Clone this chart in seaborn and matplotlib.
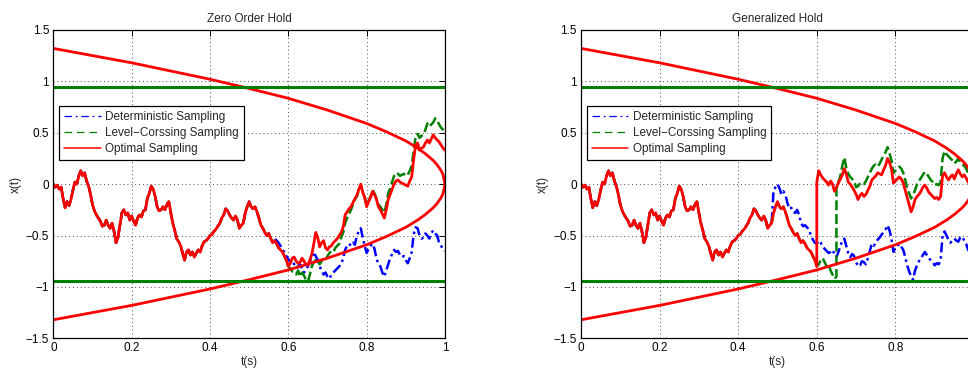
import numpy as np
import matplotlib
matplotlib.use("Agg")
import matplotlib.pyplot as plt
import seaborn as sns
from matplotlib.lines import Line2D

sns.set_theme(style="white")
plt.rcParams["font.family"] = ["Liberation Sans", "DejaVu Sans"]

# ---------------------------------------------------------------------------
# Data: sample paths x(t) on a 0.005 s grid
# ---------------------------------------------------------------------------
T_STEP = 0.005

# common part of every path, t = 0 ... 0.485
path_shared = [
    0.00, -0.03, -0.01, -0.05, -0.03, -0.14, -0.23, -0.17, -0.21, -0.15,
    -0.06, 0.02, 0.00, 0.08, 0.13, 0.08, 0.11, 0.03, -0.02, -0.10,
    -0.20, -0.26, -0.30, -0.33, -0.36, -0.41, -0.40, -0.35, -0.40, -0.43,
    -0.38, -0.46, -0.57, -0.52, -0.40, -0.28, -0.25, -0.30, -0.28, -0.35,
    -0.31, -0.36, -0.40, -0.33, -0.30, -0.32, -0.26, -0.25, -0.14, -0.09,
    -0.02, -0.05, -0.12, -0.22, -0.26, -0.25, -0.22, -0.25, -0.20, -0.17,
    -0.28, -0.38, -0.45, -0.53, -0.56, -0.60, -0.67, -0.74, -0.66, -0.64,
    -0.69, -0.66, -0.71, -0.67, -0.64, -0.66, -0.60, -0.56, -0.55, -0.53,
    -0.50, -0.49, -0.46, -0.44, -0.41, -0.38, -0.33, -0.30, -0.24, -0.26,
    -0.30, -0.33, -0.35, -0.31, -0.35, -0.43, -0.40, -0.38,
]

# Zero order hold, t = 0.49 ... 1.0
zoh_optimal_tail = [
    -0.28, -0.22, -0.17, -0.22, -0.24, -0.22, -0.27, -0.33, -0.40, -0.43,
    -0.47, -0.50, -0.48, -0.53, -0.57, -0.55, -0.58, -0.62, -0.64, -0.66,
    -0.70, -0.74, -0.80, -0.77, -0.72, -0.71, -0.75, -0.77, -0.76, -0.72,
    -0.75, -0.78, -0.79, -0.74, -0.68, -0.58, -0.47, -0.52, -0.61, -0.57,
    -0.55, -0.62, -0.64, -0.61, -0.60, -0.57, -0.55, -0.53, -0.50, -0.47,
    -0.42, -0.30, -0.27, -0.24, -0.22, -0.18, -0.14, -0.11, -0.05, 0.00,
    -0.08, -0.13, -0.22, -0.17, -0.13, -0.07, -0.10, -0.15, -0.22, -0.25,
    -0.29, -0.33, -0.25, -0.15, -0.10, -0.05, 0.00, 0.03, 0.04, 0.02,
    0.01, 0.00, -0.01, -0.02, 0.03, 0.07, 0.24, 0.38, 0.40, 0.33,
    0.35, 0.36, 0.40, 0.43, 0.40, 0.44, 0.48, 0.45, 0.43, 0.41,
    0.38, 0.35, 0.33,
]
zoh_level_tail = [
    -0.28, -0.22, -0.17, -0.22, -0.24, -0.22, -0.27, -0.33, -0.40, -0.43,
    -0.47, -0.50, -0.48, -0.53, -0.57, -0.55, -0.58, -0.62, -0.64, -0.66,
    -0.70, -0.74, -0.80, -0.82, -0.85, -0.86, -0.88, -0.84, -0.90, -0.86,
    -0.89, -0.93, -0.95, -0.88, -0.80, -0.76, -0.74, -0.73, -0.78, -0.75,
    -0.72, -0.74, -0.70, -0.67, -0.65, -0.66, -0.62, -0.60, -0.58, -0.52,
    -0.47, -0.38, -0.33, -0.29, -0.25, -0.20, -0.15, -0.12, -0.06, -0.01,
    -0.08, -0.13, -0.21, -0.16, -0.12, -0.06, -0.09, -0.14, -0.20, -0.22,
    -0.25, -0.28, -0.20, -0.09, -0.04, 0.02, 0.08, 0.11, 0.10, 0.08,
    0.09, 0.10, 0.08, 0.09, 0.13, 0.18, 0.32, 0.46, 0.49, 0.45,
    0.47, 0.48, 0.53, 0.59, 0.56, 0.58, 0.60, 0.64, 0.62, 0.58,
    0.55, 0.53, 0.52,
]
zoh_det_tail = [
    -0.28, -0.22, -0.17, -0.22, -0.24, -0.22, -0.27, -0.33, -0.40, -0.43,
    -0.47, -0.50, -0.48, -0.53, -0.56, -0.53, -0.55, -0.57, -0.60, -0.64,
    -0.66, -0.70, -0.73, -0.76, -0.74, -0.78, -0.82, -0.80, -0.78, -0.82,
    -0.86, -0.83, -0.80, -0.75, -0.72, -0.66, -0.70, -0.74, -0.80, -0.84,
    -0.88, -0.86, -0.90, -0.92, -0.88, -0.86, -0.84, -0.82, -0.80, -0.78,
    -0.72, -0.64, -0.60, -0.58, -0.60, -0.57, -0.59, -0.50, -0.46, -0.43,
    -0.52, -0.60, -0.67, -0.63, -0.60, -0.58, -0.63, -0.72, -0.78, -0.80,
    -0.86, -0.90, -0.84, -0.78, -0.72, -0.68, -0.64, -0.66, -0.65, -0.69,
    -0.71, -0.70, -0.74, -0.77, -0.72, -0.66, -0.49, -0.42, -0.43, -0.50,
    -0.53, -0.52, -0.48, -0.50, -0.53, -0.48, -0.45, -0.48, -0.50, -0.57,
    -0.60, -0.63, -0.65,
]

# Generalized hold
gh_optimal_pre = [  # t = 0.49 ... 0.60
    -0.28, -0.22, -0.17, -0.22, -0.24, -0.22, -0.27, -0.33, -0.40, -0.43,
    -0.47, -0.50, -0.48, -0.53, -0.57, -0.55, -0.58, -0.62, -0.64, -0.66,
    -0.70, -0.74, -0.80,
]
gh_optimal_post = [  # t = 0.60 ... 1.0 (after the reset at t = 0.6)
    0.02, 0.13, 0.09, 0.06, 0.04, 0.02, -0.01, 0.03, 0.00, -0.07,
    -0.03, 0.01, 0.05, 0.09, 0.15, 0.10, 0.02, 0.00, -0.03, -0.06,
    -0.10, -0.15, -0.11, -0.09, -0.12, -0.10, -0.06, -0.02, 0.04, 0.06,
    0.08, 0.11, 0.10, 0.09, 0.14, 0.18, 0.25, 0.21, 0.15, 0.01,
    0.03, 0.05, 0.07, 0.05, 0.01, -0.06, -0.13, -0.20, -0.27, -0.22,
    -0.15, -0.12, -0.10, -0.07, -0.03, -0.01, -0.04, -0.08, -0.10, -0.12,
    -0.14, -0.13, -0.15, -0.12, 0.08, 0.11, 0.07, 0.04, 0.07, 0.09,
    0.05, 0.10, 0.14, 0.10, 0.07, 0.09, 0.06, 0.02, 0.00, -0.02,
    -0.03,
]
gh_level_pre = [  # t = 0.49 ... 0.65
    -0.28, -0.22, -0.17, -0.22, -0.24, -0.22, -0.27, -0.33, -0.40, -0.43,
    -0.47, -0.50, -0.48, -0.53, -0.57, -0.55, -0.58, -0.62, -0.64, -0.66,
    -0.70, -0.74, -0.80, -0.78, -0.74, -0.72, -0.76, -0.80, -0.78, -0.84,
    -0.88, -0.92, -0.90,
]
gh_level_post = [  # t = 0.65 ... 1.0 (after the level crossing)
    -0.05, 0.02, 0.08, 0.18, 0.26, 0.16, 0.10, 0.07, 0.05, 0.03,
    -0.03, -0.02, 0.01, 0.00, 0.00, 0.03, 0.07, 0.11, 0.15, 0.18,
    0.19, 0.17, 0.20, 0.24, 0.28, 0.31, 0.36, 0.30, 0.23, 0.11,
    0.13, 0.15, 0.17, 0.15, 0.11, 0.04, -0.04, -0.09, -0.14, -0.10,
    -0.06, 0.00, 0.03, 0.06, 0.09, 0.12, 0.10, 0.07, 0.04, 0.02,
    -0.01, 0.00, -0.01, 0.02, 0.25, 0.32, 0.29, 0.27, 0.25, 0.23,
    0.20, 0.22, 0.25, 0.21, 0.19, 0.18, 0.15, 0.11, 0.10, 0.08,
    0.07,
]
gh_det_tail = [  # t = 0.49 ... 1.0
    -0.06, -0.03, 0.00, -0.04, -0.10, -0.07, -0.10, -0.18, -0.24, -0.23,
    -0.27, -0.28, -0.25, -0.30, -0.38, -0.41, -0.40, -0.42, -0.44, -0.50,
    -0.54, -0.57, -0.58, -0.55, -0.57, -0.61, -0.63, -0.65, -0.67, -0.66,
    -0.64, -0.68, -0.71, -0.66, -0.60, -0.55, -0.53, -0.60, -0.67, -0.71,
    -0.68, -0.70, -0.76, -0.80, -0.79, -0.75, -0.76, -0.78, -0.72, -0.65,
    -0.58, -0.60, -0.57, -0.54, -0.52, -0.49, -0.47, -0.44, -0.40, -0.45,
    -0.53, -0.66, -0.62, -0.60, -0.58, -0.61, -0.64, -0.71, -0.79, -0.85,
    -0.90, -0.93, -0.84, -0.79, -0.75, -0.72, -0.69, -0.66, -0.69, -0.72,
    -0.74, -0.76, -0.79, -0.77, -0.78, -0.74, -0.50, -0.46, -0.50, -0.54,
    -0.57, -0.55, -0.53, -0.55, -0.56, -0.52, -0.51, -0.55, -0.58, -0.64,
    -0.66, -0.69, -0.70,
]

# Optimal sampling boundary and level-crossing thresholds
bound_t = [0.0, 0.1, 0.2, 0.3, 0.4, 0.5, 0.6, 0.7, 0.8, 0.85, 0.9, 0.93,
           0.95, 0.97, 0.98, 0.99, 0.995, 1.0]
bound_upper = [1.32, 1.25, 1.18, 1.10, 1.02, 0.93, 0.835, 0.72, 0.59, 0.51,
               0.42, 0.35, 0.295, 0.23, 0.187, 0.132, 0.093, 0.0]
level = 0.94

titles = ["Zero Order Hold", "Generalized Hold"]
labels = ["Deterministic Sampling", "Level\u2212Corssing Sampling", "Optimal Sampling"]
x_ticks = [0, 0.2, 0.4, 0.6, 0.8, 1.0]
x_tick_labels = [["0", "0.2", "0.4", "0.6", "0.8", "1"],
                 ["0", "0.2", "0.4", "0.6", "0.8", ""]]
y_ticks = [-1.5, -1, -0.5, 0, 0.5, 1, 1.5]
y_tick_labels = ["\u22121.5", "\u22121", "\u22120.5", "0", "0.5", "1", "1.5"]


def build(*pieces):
    """Join (start time, values) pieces into one time/value pair."""
    t = np.concatenate([np.round(t0 + T_STEP * np.arange(len(v)), 4) for t0, v in pieces])
    y = np.concatenate([np.asarray(v, float) for _, v in pieces])
    return t, y


panels = [
    [build((0.0, path_shared), (0.49, zoh_det_tail)),
     build((0.0, path_shared), (0.49, zoh_level_tail)),
     build((0.0, path_shared), (0.49, zoh_optimal_tail))],
    [build((0.0, path_shared), (0.49, gh_det_tail)),
     build((0.0, path_shared), (0.49, gh_level_pre), (0.65, gh_level_post)),
     build((0.0, path_shared), (0.49, gh_optimal_pre), (0.60, gh_optimal_post))],
]

BLUE, GREEN, RED = "#0000ff", "#008000", "#ff0000"
styles = [
    dict(color=BLUE, linestyle=(0, (4, 1.5, 1, 1.5)), linewidth=1.8),
    dict(color=GREEN, linestyle=(0, (4, 1.5)), linewidth=1.8),
    dict(color=RED, linestyle="-", linewidth=2.0),
]
legend_styles = [
    dict(color=BLUE, linestyle=(0, (6, 3, 1.5, 3)), linewidth=0.9),
    dict(color=GREEN, linestyle=(0, (6, 4)), linewidth=0.9),
    dict(color=RED, linestyle="-", linewidth=1.1),
]

fig = plt.figure(figsize=(9.68, 3.68), dpi=100)
fig.patch.set_facecolor("white")
axes = [fig.add_axes([0.0551, 0.0807, 0.4046, 0.838]),
        fig.add_axes([0.6002, 0.0807, 0.4060, 0.838])]

FS = 8.5
for ax, title, series, xtl in zip(axes, titles, panels, x_tick_labels):
    for (t, y), st in zip(series, styles):
        sns.lineplot(x=t, y=y, ax=ax, estimator=None, sort=False, **st)

    bt = np.asarray(bound_t)
    bu = np.asarray(bound_upper)
    sns.lineplot(x=bt, y=bu, ax=ax, estimator=None, sort=False, color=RED, linewidth=2.0)
    sns.lineplot(x=bt, y=-bu, ax=ax, estimator=None, sort=False, color=RED, linewidth=2.0)
    ax.axhline(level, color=GREEN, linewidth=2.2)
    ax.axhline(-level, color=GREEN, linewidth=2.2)

    ax.set_xlim(0, 1)
    ax.set_ylim(-1.5, 1.5)
    ax.set_xticks(x_ticks)
    ax.set_xticklabels(xtl)
    ax.set_yticks(y_ticks)
    ax.set_yticklabels(y_tick_labels)
    ax.grid(True, linestyle=(0, (1, 3)), color="0.3", linewidth=0.7)
    ax.tick_params(direction="in", top=True, right=True, length=4, width=0.7,
                   labelsize=FS, pad=3, colors="black")
    for sp in ax.spines.values():
        sp.set_color("black")
        sp.set_linewidth(0.9)
    ax.set_facecolor("white")
    ax.set_title(title, fontsize=FS, pad=6)
    ax.set_xlabel("t(s)", fontsize=FS, labelpad=1)
    ax.set_ylabel("x(t)", fontsize=FS, labelpad=3)

    handles = [Line2D([], [], **st) for st in legend_styles]
    leg = ax.legend(handles, labels, loc="upper left", bbox_to_anchor=(0.015, 0.753),
                    fontsize=FS, frameon=True, fancybox=False, framealpha=1,
                    edgecolor="black", borderaxespad=0, handlelength=3.1,
                    handletextpad=0.4, labelspacing=0.36, borderpad=0.4)
    leg.get_frame().set_linewidth(0.9)

fig.savefig("out.png", dpi=100, facecolor="white")
